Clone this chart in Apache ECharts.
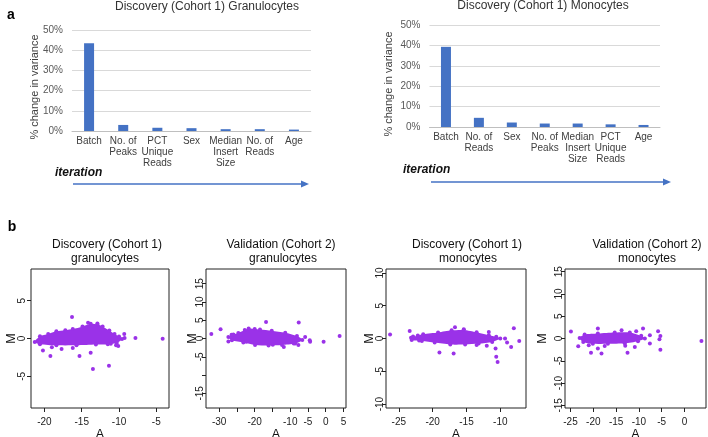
<!DOCTYPE html>
<html><head><meta charset="utf-8">
<script src="https://cdn.jsdelivr.net/npm/echarts@6/dist/echarts.min.js"></script>
<style>html,body{margin:0;padding:0;background:#fff}#c{width:708px;height:437px}</style>
</head><body><div id="c"></div>
<script>
// ---- panel a: bar charts ----
const granCategories = ['Batch','No. of\nPeaks','PCT\nUnique\nReads','Sex','Median\nInsert\nSize','No. of\nReads','Age'];
const granValues = [43.5, 3.0, 1.6, 1.4, 0.9, 0.9, 0.7];
const monoCategories = ['Batch','No. of\nReads','Sex','No. of\nPeaks','Median\nInsert\nSize','PCT\nUnique\nReads','Age'];
const monoValues = [39.3, 4.5, 2.2, 1.7, 1.7, 1.3, 1.0];

// ---- panel b: MA plots (dense core outline + individual points) ----
const dgCloud = [[-21.3,-0.45],[-20.6,0.3],[-19.5,0.6],[-18.4,0.95],[-17.2,1.1],[-16.2,1.25],[-14.9,1.6],[-13.8,1.95],[-12.9,1.85],[-12.2,1.6],[-11.3,1.05],[-10.6,0.6],[-10.0,0.25],[-9.6,-0.05],[-10.3,-0.6],[-11.5,-0.75],[-13.1,-0.8],[-15.7,-0.9],[-18.4,-0.9],[-20.6,-0.75]];
const dgPoints = [[-16.3,2.85],[-14.15,2.1],[-12.9,2.0],[-7.8,0.05],[-4.15,-0.02],[-9.25,0.05],[-9.3,0.6],[-10.1,-1.0],[-10.4,-0.9],[-11.1,-0.7],[-20.2,-1.6],[-19.2,-2.3],[-19.0,-1.15],[-17.7,-1.4],[-16.2,-1.25],[-15.3,-2.3],[-13.8,-1.9],[-11.35,-3.6],[-13.5,-4.05]];
const vgCloud = [[-27.4,0.4],[-26.0,1.1],[-24.6,1.5],[-22.8,2.3],[-21.7,2.7],[-20.0,2.6],[-18.5,2.45],[-15.2,2.1],[-11.4,1.55],[-8.1,0.65],[-6.6,-0.4],[-8.6,-1.35],[-12.3,-1.75],[-16.1,-1.9],[-19.9,-1.75],[-23.2,-1.1],[-26.4,-0.5]];
const vgPoints = [[-32.2,1.2],[-29.6,2.5],[-16.8,4.5],[-7.6,4.4],[3.9,0.7],[-0.6,-0.9],[-4.4,-0.9],[-4.5,-0.5],[-5.8,0.4],[-27.4,-0.8],[-11.8,-2.3],[-14.9,-1.7],[-26.5,1.0],[-22.4,-0.9],[-9.0,-1.4],[-7.7,-1.8]];
const dmCloud = [[-23.2,0.1],[-22.2,0.45],[-21.4,0.66],[-19.2,0.92],[-17.2,1.25],[-15.4,1.3],[-13.5,0.95],[-11.7,0.5],[-10.6,0.25],[-10.0,0.0],[-11.2,-0.52],[-13.2,-0.78],[-15.2,-0.92],[-17.4,-0.92],[-19.7,-0.62],[-21.6,-0.38],[-23.1,-0.22]];
const dmPoints = [[-26.3,0.62],[-23.4,1.16],[-22.9,0.3],[-8.0,1.55],[-7.2,-0.37],[-8.4,-1.28],[-9.0,-0.61],[-9.3,0.0],[-10.7,-1.53],[-10.6,-2.8],[-10.4,-3.57],[-16.7,1.7],[-15.4,1.4],[-11.7,1.0],[-19.0,-2.14],[-16.9,-2.3],[-22.0,-0.3],[-21.5,0.3],[-12.0,-1.1],[-13.5,-1.0]];
const vmCloud = [[-23.0,0.13],[-21.9,0.9],[-19.0,1.12],[-15.3,1.35],[-12.0,1.35],[-9.5,0.6],[-8.7,0.0],[-10.2,-0.6],[-13.1,-1.05],[-16.8,-1.2],[-20.1,-1.2],[-22.2,-0.76]];
const vmPoints = [[-24.9,1.55],[-19.0,2.24],[3.7,-0.55],[-5.3,-2.55],[-5.8,1.63],[-5.3,0.58],[-5.5,-0.16],[-9.1,2.24],[-7.6,0.74],[-7.6,-1.12],[-23.3,-1.72],[-20.5,-3.2],[-18.2,-3.36],[-12.5,-3.2],[-19.0,-2.24],[-10.9,-1.88],[-13.8,1.86],[-10.6,1.63],[-13.0,-1.6],[-17.5,-1.7],[-21.0,-1.5]];

// axis ranges and ticks
const dgXRange = [-21.8, -3.3], dgYRange = [-9.2, 9.2];
const dgXTicks = [-20,-15,-10,-5], dgXLabels = [-20,-15,-10,-5];
const dgYTicks = [-5,0,5], dgYLabels = [-5,0,5];
const vgXRange = [-33.7, 5.7], vgYRange = [-19, 19];
const vgXTicks = [-30,-25,-20,-15,-10,-5,0,5], vgXLabels = [-30,-20,-10,-5,0,5];
const vgYTicks = [-15,-10,-5,0,5,10,15], vgYLabels = [-15,-5,0,5,10,15];
const dmXRange = [-26.9, -6.2], dmYRange = [-10.6, 10.6];
const dmXTicks = [-25,-20,-15,-10], dmXLabels = [-25,-20,-15,-10];
const dmYTicks = [-10,-5,0,5,10], dmYLabels = [-10,-5,0,5,10];
const vmXRange = [-26.2, 4.7], vmYRange = [-15.6, 15.6];
const vmXTicks = [-25,-20,-15,-10,-5,0], vmXLabels = [-25,-20,-15,-10,-5,0];
const vmYTicks = [-15,-10,-5,0,5,10,15], vmYLabels = [-15,-10,-5,0,5,10,15];

const FONT = 'Liberation Sans, Arial, Helvetica, sans-serif';
const BLUE = '#4472C4';
const PURPLE = '#9a32e8';

const chart = echarts.init(document.getElementById('c'), null, {renderer:'canvas'});

const scatterPanels = [
  {grid:{left:31, top:269, width:138, height:139}, ylm:4, mgap:13, xr:dgXRange, yr:dgYRange, xt:dgXTicks, xl:dgXLabels, yt:dgYTicks, yl:dgYLabels, cloud:dgCloud, pts:dgPoints},
  {grid:{left:206, top:269, width:140, height:139}, ylm:1, mgap:7, xr:vgXRange, yr:vgYRange, xt:vgXTicks, xl:vgXLabels, yt:vgYTicks, yl:vgYLabels, cloud:vgCloud, pts:vgPoints},
  {grid:{left:386, top:269, width:140, height:139}, ylm:1, mgap:10, xr:dmXRange, yr:dmYRange, xt:dmXTicks, xl:dmXLabels, yt:dmYTicks, yl:dmYLabels, cloud:dmCloud, pts:dmPoints},
  {grid:{left:565, top:269, width:141, height:139}, ylm:1, mgap:16, xr:vmXRange, yr:vmYRange, xt:vmXTicks, xl:vmXLabels, yt:vmYTicks, yl:vmYLabels, cloud:vmCloud, pts:vmPoints}
];

const grids = [
  {left:72, top:30, width:239, height:101, outerBoundsMode:'none'},
  {left:429.5, top:25, width:230.5, height:102, outerBoundsMode:'none'}
];
const xAxes = [], yAxes = [], series = [];

function barAxes(gi, cats) {
  xAxes.push({type:'category', gridIndex:gi, data:cats,
    axisLine:{show:true, onZero:false, lineStyle:{color:'#bfbfbf', width:1}}, axisTick:{show:false},
    axisLabel:{interval:0, fontFamily:FONT, fontSize:10, color:'#404040', lineHeight:11, margin:5}});
  yAxes.push({type:'value', gridIndex:gi, min:0, max:50, interval:10,
    axisLine:{show:false, onZero:false}, axisTick:{show:false},
    axisLabel:{formatter:'{value}%', fontFamily:FONT, fontSize:10, color:'#595959', margin:9},
    splitLine:{show:true, lineStyle:{color:'#d9d9d9', width:1}}});
}
barAxes(0, granCategories);
barAxes(1, monoCategories);
series.push({type:'bar', xAxisIndex:0, yAxisIndex:0, data:granValues, barWidth:10, itemStyle:{color:BLUE}, silent:true});
series.push({type:'bar', xAxisIndex:1, yAxisIndex:1, data:monoValues, barWidth:10, itemStyle:{color:BLUE}, silent:true});

scatterPanels.forEach((p, k) => {
  const gi = k + 2;
  grids.push(Object.assign({show:true, borderColor:'#222', borderWidth:1, backgroundColor:'transparent', outerBoundsMode:'none'}, p.grid));
  xAxes.push({type:'value', gridIndex:gi, min:p.xr[0], max:p.xr[1], position:'bottom',
    name:'A', nameLocation:'middle', nameGap:20, nameMoveOverlap:false,
    nameTextStyle:{fontFamily:FONT, fontSize:12.5, color:'#111'},
    axisLine:{show:false, onZero:false}, splitLine:{show:false},
    axisTick:{show:true, length:4, customValues:p.xt, lineStyle:{color:'#222'}},
    axisLabel:{customValues:p.xl, fontFamily:FONT, fontSize:10, color:'#222', margin:9.5, hideOverlap:false}});
  yAxes.push({type:'value', gridIndex:gi, min:p.yr[0], max:p.yr[1], position:'left',
    name:'M', nameLocation:'middle', nameGap:p.mgap, nameRotate:90, nameMoveOverlap:false,
    nameTextStyle:{fontFamily:FONT, fontSize:12.5, color:'#111'},
    axisLine:{show:false, onZero:false}, splitLine:{show:false},
    axisTick:{show:true, length:4, customValues:p.yt, lineStyle:{color:'#222'}},
    axisLabel:{customValues:p.yl, rotate:90, fontFamily:FONT, fontSize:10, color:'#222', margin:p.ylm, hideOverlap:false}});
  const hull = p.cloud;
  series.push({type:'custom', xAxisIndex:gi, yAxisIndex:gi, data:hull, clip:true, silent:true,
    renderItem: function(params, api) {
      if (params.dataIndex !== 0) return null;
      const pts = hull.map(q => api.coord(q));
      return {type:'polygon', shape:{points:pts, smooth:0.25}, style:{fill:PURPLE}};
    }});
  series.push({type:'scatter', xAxisIndex:gi, yAxisIndex:gi, data:hull, symbolSize:4, itemStyle:{color:PURPLE, opacity:1}, silent:true});
  series.push({type:'scatter', xAxisIndex:gi, yAxisIndex:gi, data:p.pts, symbolSize:4, itemStyle:{color:PURPLE, opacity:1}, silent:true});
});

function txt(x, y, s, opt) {
  return {type:'text', x:x, y:y, silent:true,
    style:Object.assign({text:s, fontFamily:FONT, fontSize:12, fill:'#111', textAlign:'center', textVerticalAlign:'middle'}, opt || {})};
}
function vtxt(x, y, s, opt) {
  const t = txt(x, y, s, opt);
  t.rotation = Math.PI / 2;
  return t;
}
function arrow(x1, x2, y) {
  return [
    {type:'line', silent:true, shape:{x1:x1, y1:y, x2:x2-6, y2:y}, style:{stroke:BLUE, lineWidth:1.3}},
    {type:'polygon', silent:true, shape:{points:[[x2-8,y-3.5],[x2,y],[x2-8,y+3.5]]}, style:{fill:BLUE}}
  ];
}

const graphics = [
  txt(11, 15, 'a', {fontSize:14, fontWeight:'bold', fill:'#000'}),
  txt(12, 227, 'b', {fontSize:14, fontWeight:'bold', fill:'#000'}),
  txt(207, 7, 'Discovery (Cohort 1) Granulocytes', {fill:'#333'}),
  txt(543, 6, 'Discovery (Cohort 1) Monocytes', {fill:'#333'}),
  vtxt(35, 87, '% change in variance', {fontSize:11, fill:'#404040'}),
  vtxt(389, 84, '% change in variance', {fontSize:11, fill:'#404040'}),
  txt(55, 173, 'iteration', {textAlign:'left', fontWeight:'bold', fontStyle:'italic', fill:'#111'}),
  txt(403, 170, 'iteration', {textAlign:'left', fontWeight:'bold', fontStyle:'italic', fill:'#111'}),
  ...arrow(73, 309, 184),
  ...arrow(431, 671, 182),
  txt(107, 245, 'Discovery (Cohort 1)'),
  txt(105, 259, 'granulocytes'),
  txt(281, 245, 'Validation (Cohort 2)'),
  txt(283, 259, 'granulocytes'),
  txt(467, 245, 'Discovery (Cohort 1)'),
  txt(468, 259, 'monocytes'),
  txt(647, 245, 'Validation (Cohort 2)'),
  txt(647, 259, 'monocytes')
];

chart.setOption({
  animation:false,
  backgroundColor:'#fff',
  grid:grids, xAxis:xAxes, yAxis:yAxes, series:series,
  graphic:graphics
});
</script></body></html>
